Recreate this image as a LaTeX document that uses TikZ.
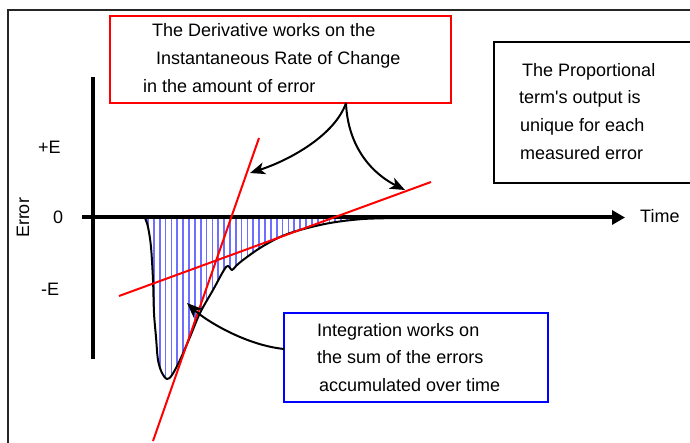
\documentclass[tikz,border=0pt]{standalone}
\usepackage{fontspec}
\setmainfont{Liberation Sans}[Ligatures=TeXOff]
\usetikzlibrary{arrows.meta}
\begin{document}
\begin{tikzpicture}[x=1pt,y=-1pt,
  txt/.style={anchor=base west,inner sep=0pt,font=\fontsize{18}{22}\selectfont},
  boxstyle/.style={draw,line width=2pt,inner sep=0pt,outer sep=0pt,fill=white},
  redline/.style={red,line width=2pt},
  callout/.style={line width=2pt,-{Stealth[length=15pt,width=12pt,inset=4pt]}},
  hatchline/.style={color={rgb,255:red,110;green,110;blue,255},line width=1.7pt}]
\useasboundingbox (0,0) rectangle (690,443);
\clip (0,0) rectangle (690,443);
\fill[white] (0,0) rectangle (690,443);
% outer frame
\draw[line width=2pt, black!85] (8,460) -- (8,10) -- (720,10);
% hatch under curve
\begin{scope}
\clip plot[smooth,tension=0.55] coordinates {(145,218) (148,227) (151,247) (153,280) (154,313) (156,337) (158,360) (162,373) (167,379) (172,375) (180,360) (190,337) (200,313) (213,290) (224,270) (228,266) (232,270) (236,266) (243,260) (260,248) (280,237) (300,230) (330,223) (363,219) (400,218)} -- cycle;
\foreach \i in {0,...,44} {
  \draw[hatchline] ({148+5.85*\i},212) -- ({148+5.85*\i},400);
}
\end{scope}
% error curve
\draw[line width=2pt, line join=round] plot[smooth,tension=0.55] coordinates {(145,218) (148,227) (151,247) (153,280) (154,313) (156,337) (158,360) (162,373) (167,379) (172,375) (180,360) (190,337) (200,313) (213,290) (224,270) (228,266) (232,270) (236,266) (243,260) (260,248) (280,237) (300,230) (330,223) (363,219) (400,218)};
% axes
\coordinate (vtop) at (92.5,77);
\coordinate (vbot) at (92.5,359);
\coordinate (hstart) at (82,217.5);
\coordinate (hend) at (625,217.5);
\draw[line width=4pt] (vtop) -- (vbot);
\draw[line width=4pt,-{Triangle[length=13pt,width=14pt]}] (hstart) -- (hend);
% axis labels
\node[txt] (pe) at (38,154) {+E};
\node[txt] (ze) at (53,224) {0};
\node[txt] (me) at (41,295) {-E};
\node[inner sep=0pt,font=\fontsize{18}{22}\selectfont,rotate=90] (err) at (23,218) {Error};
\node[txt] (tm) at (640,223) {Time};
% tangent lines
\coordinate (s1a) at (259,138);
\coordinate (s1b) at (153,441);
\coordinate (s2a) at (119,296);
\coordinate (s2b) at (431,182);
\draw[redline] (s1a) -- (s1b);
\draw[redline] (s2a) -- (s2b);
% derivative box
\node[boxstyle,draw=red,minimum width=341pt,minimum height=87pt] (dbox) at (280.5,59.5) {};
\node[txt] (d1) at (152,37) {The Derivative works on the};
\node[txt] (d2) at (156,65) {Instantaneous Rate of Change};
\node[txt] (d3) at (143,93) {in the amount of error};
% proportional box
\node[boxstyle,draw=black,minimum width=226pt,minimum height=141pt] (pbox) at (607,112.5) {};
\node[txt] (p1) at (522,77) {The Proportional};
\node[txt] (p2) at (519,104) {term's output is};
\node[txt] (p3) at (520,132) {unique for each};
\node[txt] (p4) at (520,160) {measured error};
% integration box
\node[boxstyle,draw=blue,minimum width=264pt,minimum height=89pt] (ibox) at (416,357.5) {};
\node[txt] (i1) at (317,336) {Integration works on};
\node[txt] (i2) at (317,363) {the sum of the errors};
\node[txt] (i3) at (319,391) {accumulated over time};
% callout arrows
\coordinate (dsrc) at (346,103);
\coordinate (dtip1) at (250,173);
\coordinate (dtip2) at (405,190);
\coordinate (isrc) at (284,349);
\coordinate (itip) at (187,303);
\draw[callout] (dsrc) .. controls (335,135) and (290,160) .. (dtip1);
\draw[callout] (dsrc) .. controls (348,150) and (375,175) .. (dtip2);
\draw[callout] (isrc) .. controls (245,345) and (205,320) .. (itip);
\end{tikzpicture}
\end{document}
